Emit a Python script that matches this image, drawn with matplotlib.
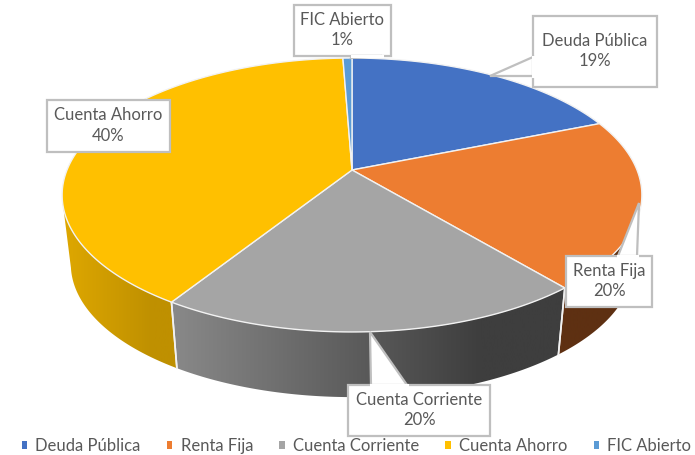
import numpy as np
from matplotlib import pyplot as plt
from matplotlib.colors import to_rgb
from matplotlib.patches import Patch, Polygon

plt.rcParams['font.family'] = ['Lato', 'DejaVu Sans']

names = ['Deuda Pública', 'Renta Fija', 'Cuenta Corriente', 'Cuenta Ahorro', 'FIC Abierto']
shares = [18.9, 20.0, 20.1, 40.4, 0.6]

colors = ['#4472C4', '#ED7D31', '#A5A5A5', '#FFC000', '#5B9BD5']
# side wall colours, left end and right end of the wall
wall_left = ['#2F5597', '#5E3012', '#8C8C8C', '#E3AB00', '#41719C']
wall_right = ['#2F5597', '#5E3012', '#3E3E3E', '#BF9000', '#41719C']

TEXT = '#595959'
BORDER = '#BFBFBF'


def rim(angle, scale, y0):
    # perspective view of a circle, angle clockwise from the top
    a = np.radians(angle)
    u, v = np.sin(a), np.cos(a)
    d = 1 + 0.1825 * v
    return 352 + scale * 285 * u / d, y0 - scale * 132.4 * v / d


def label_box(ax, box, text, tail=None):
    x0, y0, x1, y1 = box
    ax.fill([x0, x1, x1, x0], [y0, y0, y1, y1], fc='white', ec=BORDER, lw=1.6, zorder=5)
    if tail is not None:
        ax.fill(tail[0], tail[1], fc='white', ec=BORDER, lw=1.6, zorder=6)
        # the side of the tail lying on the box stays open
        ax.plot([tail[0][0], tail[0][2]], [tail[1][0], tail[1][2]], c='white', lw=2.2, zorder=7)
    ax.text((x0 + x1) / 2, (y0 + y1) / 2 - 0.5, text, ha='center', va='center', color=TEXT,
            fontsize=12, linespacing=1.38, zorder=8)


fig = plt.figure(figsize=(6.95, 4.55), dpi=100)
ax = fig.add_axes([0, 0, 1, 1])

edges = np.concatenate([[0], np.cumsum(shares)]) / sum(shares) * 360

# walls first, the top face covers whatever is behind it
# only the front part of the rim is drawn, 108 and 258 degrees are where the wall leaves the top face
for i in range(len(shares)):
    start, end = max(edges[i], 108), min(edges[i + 1], 258)
    if start >= end:
        continue
    steps = np.linspace(start, end, 120)
    xt, yt = rim(steps, 1, 170)
    xb, yb = rim(steps, 0.97, 240)
    outline = np.c_[np.r_[xt, xb[::-1]], np.r_[yt, yb[::-1]]]
    clip = Polygon(outline, closed=True, transform=ax.transData)

    t = np.clip(np.linspace(0, 1, 256) * 1.3, 0, 1)[None, :, None]
    ramp = (1 - t) * np.array(to_rgb(wall_left[i])) + t * np.array(to_rgb(wall_right[i]))
    im = ax.imshow(ramp, extent=(xt.min() - 12, xt.max() + 12, 455, 0), aspect='auto', zorder=1)
    im.set_clip_path(clip)

    for a in (edges[i], edges[i + 1]):
        x0, y0 = rim(a, 1, 170)
        x1, y1 = rim(a, 0.97, 240)
        if 108 < a < 258:
            ax.plot([x0, x1], [y0, y1], c='#F2F2F2', lw=1.2, zorder=2)

for i in range(len(shares)):
    steps = np.linspace(edges[i], edges[i + 1], max(int(edges[i + 1] - edges[i]), 2) * 2)
    x, y = rim(steps, 1, 170)
    ax.fill(np.r_[352, x], np.r_[170, y], fc=colors[i], ec='#F2F2F2', lw=1.0, joinstyle='round', zorder=3)

texts = [f'{n}\n{round(s)}%' for n, s in zip(names, shares)]

label_box(ax, (533, 16, 657, 87), texts[0], ([533, 490, 533], [57, 76, 76]))
label_box(ax, (566, 256, 652, 307), texts[1], ([618, 639, 637], [256, 203, 256]))
label_box(ax, (348, 385, 490, 436), texts[2], ([371, 370, 407], [385, 332, 385]))
label_box(ax, (47, 100, 170, 152), texts[3])
label_box(ax, (294, 5, 391, 56), texts[4], ([352, 351, 382], [56, 58, 56]))

handles = [Patch(fc=c, ec='none') for c in colors]
ax.legend(handles, names, ncol=5, frameon=False, loc='center', bbox_to_anchor=(356.5, 446),
          bbox_transform=ax.transData, fontsize=12, labelcolor=TEXT,
          handlelength=0.32, handleheight=0.32, handletextpad=0.5, columnspacing=1.57,
          borderpad=0, borderaxespad=0)

ax.set_xlim(0, 695)
ax.set_ylim(455, 0)
ax.axis('off')

fig.savefig('out.png', dpi=100)
